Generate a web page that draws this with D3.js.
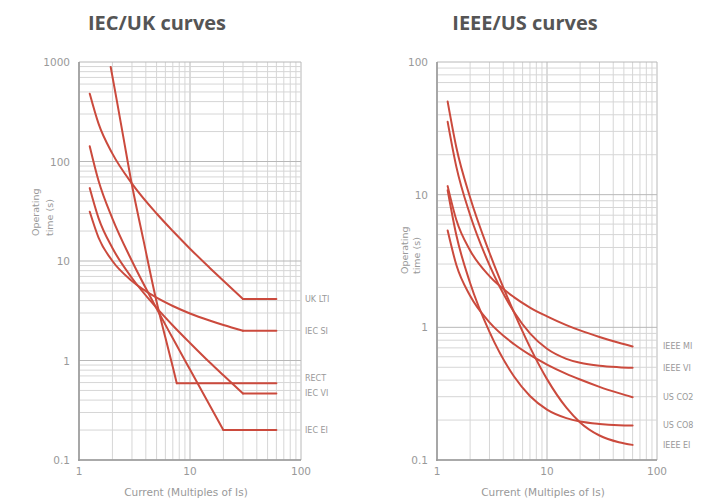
<!DOCTYPE html>
<html>
<head>
<meta charset="utf-8">
<script src="https://cdn.jsdelivr.net/npm/d3@7"></script>
<style>
  html, body { margin: 0; padding: 0; background: #fff; }
  svg { display: block; }
  .title { font-family: "Open Sans", sans-serif; font-weight: 700; fill: #555; }
  .small { font-family: "DejaVu Sans", sans-serif; fill: #999; }
</style>
</head>
<body>
<div id="chart"></div>
<script>
// Current multiples (x values)
const iecM = [1.25, 1.5, 2, 3, 5, 7, 10, 15, 20, 30, 60];
const rectM = [1.93, 2.2, 2.5, 3, 3.8, 5, 6, 7, 7.6, 60];
const iecEiM = [1.25, 1.5, 2, 3, 5, 7, 10, 15, 20, 60];
const ieeeM = [1.25, 1.5, 2, 3, 5, 7, 10, 15, 20, 30, 45, 60];

// Operating times (s), IEC/UK panel
const ukLti = [480, 240, 120, 60, 30, 20, 13.3, 8.57, 6.32, 4.14, 4.14];
const iecSi = [31.3, 17.2, 10.0, 6.3, 4.28, 3.53, 2.97, 2.52, 2.27, 1.99, 1.99];
const rect = [890, 400, 180, 58, 16.4, 3.9, 1.7, 0.86, 0.59, 0.59];
const iecVi = [54, 27, 13.5, 6.75, 3.38, 2.25, 1.5, 0.96, 0.71, 0.466, 0.466];
const iecEi = [142, 64, 26.7, 10, 3.33, 1.67, 0.81, 0.357, 0.2, 0.2];

// Operating times (s), IEEE/US panel
const ieeeMi = [11.6, 6.44, 3.8, 2.43, 1.69, 1.41, 1.21, 1.04, 0.948, 0.846, 0.765, 0.718];
const ieeeVi = [35.4, 16.2, 7.03, 2.94, 1.31, 0.9, 0.689, 0.579, 0.54, 0.513, 0.501, 0.496];
const usCo2 = [5.36, 2.95, 1.73, 1.09, 0.748, 0.619, 0.524, 0.446, 0.404, 0.356, 0.319, 0.297];
const usCo8 = [10.8, 4.94, 2.16, 0.924, 0.428, 0.304, 0.24, 0.207, 0.195, 0.187, 0.183, 0.182];
const ieeeEi = [50.3, 22.7, 9.52, 3.65, 1.3, 0.709, 0.407, 0.248, 0.192, 0.153, 0.136, 0.13];

const iecLabels = ['UK LTI', 'IEC SI', 'RECT', 'IEC VI', 'IEC EI'];
const ieeeLabels = ['IEEE MI', 'IEEE VI', 'US CO2', 'US CO8', 'IEEE EI'];
const iecYTicks = [0.1, 1, 10, 100, 1000];
const ieeeYTicks = [0.1, 1, 10, 100];
const xTicks = [1, 10, 100];

const W = 716, H = 504;
const lineColor = '#cb4a3d';

const svg = d3.select('#chart').append('svg')
  .attr('width', W).attr('height', H);

function zip(xs, ys) { return xs.map((x, i) => [x, ys[i]]); }

function drawPanel(opt) {
  const x = d3.scaleLog().domain([1, 100]).range([opt.left, opt.right]);
  const y = d3.scaleLog().domain(opt.yDomain).range([opt.bottom, opt.top]);
  const g = svg.append('g');

  // minor + major grid
  const xGrid = [];
  for (let d = 1; d < 100; d *= 10) for (let k = 1; k <= 9; k++) xGrid.push(d * k);
  xGrid.push(100);
  const yGrid = [];
  for (let d = opt.yDomain[0]; d < opt.yDomain[1] * 0.99; d *= 10) for (let k = 1; k <= 9; k++) yGrid.push(d * k);
  yGrid.push(opt.yDomain[1]);

  const isMajor = v => Math.abs(Math.log10(v) - Math.round(Math.log10(v))) < 1e-6;

  g.append('g').selectAll('line').data(xGrid).join('line')
    .attr('x1', d => x(d)).attr('x2', d => x(d))
    .attr('y1', opt.top).attr('y2', opt.bottom)
    .attr('stroke', d => isMajor(d) ? '#b8b8b8' : '#d6d6d6')
    .attr('stroke-width', 1);
  g.append('g').selectAll('line').data(yGrid).join('line')
    .attr('x1', opt.left).attr('x2', opt.right)
    .attr('y1', d => y(d)).attr('y2', d => y(d))
    .attr('stroke', d => isMajor(d) ? '#b8b8b8' : '#d6d6d6')
    .attr('stroke-width', 1);

  // axes lines
  g.append('line').attr('x1', opt.left).attr('x2', opt.left)
    .attr('y1', opt.top).attr('y2', opt.bottom + 1)
    .attr('stroke', '#9a9a9a').attr('stroke-width', 1.6);
  g.append('line').attr('x1', opt.left - 1).attr('x2', opt.right)
    .attr('y1', opt.bottom).attr('y2', opt.bottom)
    .attr('stroke', '#9a9a9a').attr('stroke-width', 1.6);

  // tick labels
  g.append('g').selectAll('text').data(opt.yTicks).join('text')
    .attr('class', 'small')
    .attr('x', opt.left - 9).attr('y', d => y(d) + 4)
    .attr('text-anchor', 'end').attr('font-size', 10.5)
    .text(d => d);
  g.append('g').selectAll('text').data(xTicks).join('text')
    .attr('class', 'small')
    .attr('x', d => x(d)).attr('y', opt.bottom + 15)
    .attr('text-anchor', 'middle').attr('font-size', 10.5)
    .text(d => d);

  // axis titles
  g.append('text').attr('class', 'small')
    .attr('x', x(10) - 4).attr('y', opt.bottom + 36)
    .attr('text-anchor', 'middle').attr('font-size', 10.5)
    .text('Current (Multiples of Is)');
  const yt = g.append('text').attr('class', 'small')
    .attr('transform', `translate(${opt.yTitleX},${opt.yTitleY}) rotate(-90)`)
    .attr('font-size', 9.5);
  yt.append('tspan').attr('x', 0).attr('dy', 0).text('Operating');
  yt.append('tspan').attr('x', 0).attr('dy', opt.yTitleGap).text('time (s)');

  // panel title
  svg.append('text').attr('class', 'title')
    .attr('x', opt.titleX).attr('y', 29.5)
    .attr('text-anchor', 'middle').attr('font-size', 20)
    .text(opt.title);

  const curve = d3.line().x(d => x(d[0])).y(d => y(d[1])).curve(d3.curveMonotoneX);
  const straight = d3.line().x(d => x(d[0])).y(d => y(d[1]));

  opt.series.forEach((s, i) => {
    const pts = zip(s.m, s.t);
    const body = s.flatTail ? pts.slice(0, -1) : pts;
    g.append('path').attr('d', curve(body))
      .attr('fill', 'none').attr('stroke', lineColor)
      .attr('stroke-width', 2).attr('stroke-linecap', 'round');
    if (s.flatTail) {
      g.append('path').attr('d', straight(pts.slice(-2)))
        .attr('fill', 'none').attr('stroke', lineColor)
        .attr('stroke-width', 2).attr('stroke-linecap', 'round');
    }
    const last = pts[pts.length - 1];
    g.append('text').attr('class', 'small')
      .attr('x', opt.labelX).attr('y', y(last[1]) + 3 + (s.nudge || 0))
      .attr('font-size', 8)
      .text(opt.labels[i]);
  });
}

drawPanel({
  title: 'IEC/UK curves', titleX: 157,
  left: 79, right: 301, top: 62, bottom: 460,
  yDomain: [0.1, 1000], yTicks: iecYTicks,
  yTitleX: 39, yTitleY: 236, yTitleGap: 13.5,
  labelX: 305, labels: iecLabels,
  series: [
    { m: iecM, t: ukLti, flatTail: true },
    { m: iecM, t: iecSi, flatTail: true },
    { m: rectM, t: rect, flatTail: true, nudge: -5 },
    { m: iecM, t: iecVi, flatTail: true },
    { m: iecEiM, t: iecEi, flatTail: true }
  ]
});

drawPanel({
  title: 'IEEE/US curves', titleX: 525,
  left: 437, right: 657, top: 62, bottom: 460,
  yDomain: [0.1, 100], yTicks: ieeeYTicks,
  yTitleX: 408, yTitleY: 274, yTitleGap: 12,
  labelX: 663, labels: ieeeLabels,
  series: [
    { m: ieeeM, t: ieeeMi },
    { m: ieeeM, t: ieeeVi },
    { m: ieeeM, t: usCo2 },
    { m: ieeeM, t: usCo8 },
    { m: ieeeM, t: ieeeEi }
  ]
});
</script>
</body>
</html>
